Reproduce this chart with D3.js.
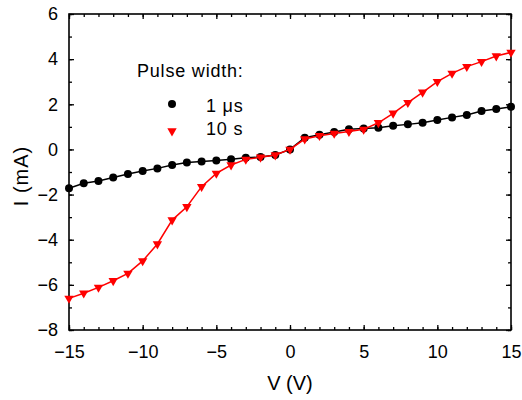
<!DOCTYPE html>
<html>
<head>
<meta charset="utf-8">
<script src="https://cdn.jsdelivr.net/npm/d3@7"></script>
<style>
  body { margin: 0; background: #fff; }
  text { font-family: "Liberation Sans", Arial, sans-serif; fill: #000; }
</style>
</head>
<body>
<div id="chart"></div>
<script>
// voltage steps (V), same for both series
var volts = [-15,-14,-13,-12,-11,-10,-9,-8,-7,-6,-5,-4,-3,-2,-1,0,1,2,3,4,5,6,7,8,9,10,11,12,13,14,15];
// current (mA), 1 us pulse width
var curShort = [-1.72,-1.50,-1.40,-1.24,-1.09,-0.96,-0.84,-0.69,-0.58,-0.53,-0.49,-0.44,-0.37,-0.34,-0.25,0.0,
                0.52,0.65,0.77,0.89,0.93,0.96,1.05,1.11,1.18,1.30,1.42,1.53,1.70,1.79,1.89];
// current (mA), 10 s pulse width
var curLong = [-6.60,-6.37,-6.11,-5.82,-5.49,-4.94,-4.19,-3.13,-2.54,-1.65,-1.06,-0.69,-0.44,-0.35,-0.25,0.0,
               0.46,0.61,0.71,0.79,0.89,1.18,1.60,2.07,2.53,3.00,3.37,3.67,3.89,4.14,4.30];
var xTicks = [-15,-10,-5,0,5,10,15];
var yTicks = [-8,-6,-4,-2,0,2,4,6];
var legendNames = ['1 \u03bcs', '10 s'];

var width = 522, height = 400;
var margin = {top: 14, right: 11, bottom: 70, left: 69};
var w = width - margin.left - margin.right;
var h = height - margin.top - margin.bottom;

var svg = d3.select('#chart').append('svg')
  .attr('width', width).attr('height', height);
var g = svg.append('g').attr('transform', 'translate(' + margin.left + ',' + margin.top + ')');

var x = d3.scaleLinear().domain([-15, 15]).range([0, w]);
var y = d3.scaleLinear().domain([-8, 6]).range([h, 0]);

//minor ticks, every 1 unit
var xMinor = d3.range(-15, 16, 1);
var yMinor = d3.range(-8, 7, 1);

function styleAxis(sel) {
  sel.select('.domain').remove();
  sel.selectAll('line').attr('stroke', '#000').attr('stroke-width', 1.3);
  sel.selectAll('text').style('font-size', '18px').attr('fill', '#000');
}

// bottom axis
g.append('g').attr('transform', 'translate(0,' + h + ')')
  .call(d3.axisBottom(x).tickValues(xMinor).tickSizeInner(-3).tickSizeOuter(0).tickFormat(''))
  .call(styleAxis);
g.append('g').attr('transform', 'translate(0,' + h + ')')
  .call(d3.axisBottom(x).tickValues(xTicks).tickSizeInner(-5).tickSizeOuter(0).tickPadding(15))
  .call(styleAxis);
// top axis
g.append('g')
  .call(d3.axisTop(x).tickValues(xMinor).tickSizeInner(-3).tickSizeOuter(0).tickFormat(''))
  .call(styleAxis);
g.append('g')
  .call(d3.axisTop(x).tickValues(xTicks).tickSizeInner(-5).tickSizeOuter(0).tickFormat(''))
  .call(styleAxis);
// left axis
g.append('g')
  .call(d3.axisLeft(y).tickValues(yMinor).tickSizeInner(-3).tickSizeOuter(0).tickFormat(''))
  .call(styleAxis);
g.append('g')
  .call(d3.axisLeft(y).tickValues(yTicks).tickSizeInner(-5).tickSizeOuter(0).tickPadding(11))
  .call(styleAxis);
// right axis
g.append('g').attr('transform', 'translate(' + w + ',0)')
  .call(d3.axisRight(y).tickValues(yMinor).tickSizeInner(-3).tickSizeOuter(0).tickFormat(''))
  .call(styleAxis);
g.append('g').attr('transform', 'translate(' + w + ',0)')
  .call(d3.axisRight(y).tickValues(yTicks).tickSizeInner(-5).tickSizeOuter(0).tickFormat(''))
  .call(styleAxis);

// frame
g.append('rect').attr('width', w).attr('height', h)
  .attr('fill', 'none').attr('stroke', '#000').attr('stroke-width', 1.6);

// axis titles
svg.append('text')
  .attr('x', margin.left + w / 2).attr('y', 390)
  .attr('text-anchor', 'middle').style('font-size', '20px')
  .text('V (V)');
svg.append('text')
  .attr('transform', 'translate(28,' + (margin.top + h / 2 + 4) + ') rotate(-90)')
  .attr('text-anchor', 'middle').style('font-size', '20px')
  .style('letter-spacing', '1px')
  .text('I (mA)');

var line = d3.line()
  .x(function (d, i) { return x(volts[i]); })
  .y(function (d) { return y(d); });

var tri = d3.symbol().type(d3.symbolTriangle).size(38);

// 1 us series
g.append('path').datum(curShort)
  .attr('fill', 'none').attr('stroke', '#000').attr('stroke-width', 1.5)
  .attr('d', line);
g.selectAll('.dotA').data(curShort).enter().append('circle')
  .attr('cx', function (d, i) { return x(volts[i]); })
  .attr('cy', function (d) { return y(d); })
  .attr('r', 4).attr('fill', '#000');

// 10 s series
g.append('path').datum(curLong)
  .attr('fill', 'none').attr('stroke', '#ff0000').attr('stroke-width', 1.5)
  .attr('d', line);
g.selectAll('.dotB').data(curLong).enter().append('path')
  .attr('d', tri)
  .attr('transform', function (d, i) { return 'translate(' + x(volts[i]) + ',' + y(d) + ') rotate(180)'; })
  .attr('fill', '#ff0000');

// legend
svg.append('text').attr('x', 137).attr('y', 77)
  .style('font-size', '18px').style('letter-spacing', '0.8px')
  .text('Pulse width:');
svg.append('circle').attr('cx', 172).attr('cy', 104).attr('r', 4).attr('fill', '#000');
svg.append('path').attr('d', tri)
  .attr('transform', 'translate(172,131) rotate(180)').attr('fill', '#ff0000');
svg.append('text').attr('x', 206).attr('y', 112)
  .style('font-size', '18px').style('letter-spacing', '0.8px')
  .text(legendNames[0]);
svg.append('text').attr('x', 206).attr('y', 135)
  .style('font-size', '18px').style('letter-spacing', '0.8px')
  .text(legendNames[1]);
</script>
</body>
</html>
